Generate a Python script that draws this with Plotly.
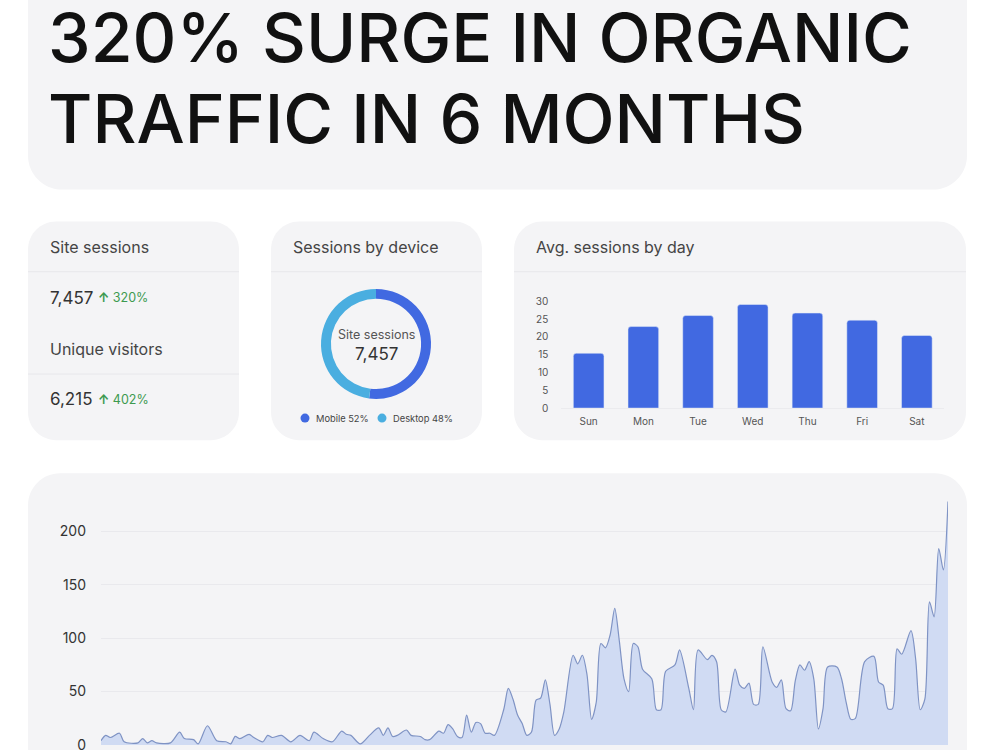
import plotly.graph_objects as go

W = 1000
H_LAYOUT = 760   # rendered into ~750 px of the photographed page
H_PIC = 750


def px(x):
    return x / W


def py(y):
    return 1 - y / H_PIC


# ---------------- data ----------------
title_lines = ["320% SURGE IN ORGANIC", "TRAFFIC IN 6 MONTHS"]

site_sessions = "7,457"
site_growth = "320%"
unique_visitors = "6,215"
unique_growth = "402%"

device_labels = ["Mobile", "Desktop"]
device_share = [52, 48]
device_colors = ["#4169e1", "#4aaee0"]

weekdays = ["Sun", "Mon", "Tue", "Wed", "Thu", "Fri", "Sat"]
avg_sessions = [15.4, 22.9, 26.0, 29.1, 26.7, 24.7, 20.4]
bar_ticks = [0, 5, 10, 15, 20, 25, 30]

days = [0, 1, 2, 4, 5, 8, 9, 10, 11, 12, 15, 17, 18, 20, 21, 23, 25, 27, 28, 29,
        30, 32, 33, 35, 36, 37, 39, 41, 43, 45, 46, 48, 50, 52, 53, 54, 56, 58, 60, 61,
        62, 63, 64, 66, 67, 69, 70, 71, 73, 74, 75, 76, 77, 78, 79, 80, 81, 82, 83, 84,
        85, 87, 88, 89, 90, 91, 92, 93, 94, 95, 96, 97, 98, 99, 100, 102, 103, 104, 105, 106,
        107, 108, 109, 110, 111, 112, 113, 114, 115, 116, 117, 119, 120, 121, 122, 124, 125, 127, 128, 129,
        131, 132, 133, 134, 135, 137, 138, 139, 140, 141, 142, 143, 145, 146, 147, 148, 149, 150, 151, 152,
        153, 154, 155, 156, 157, 159, 160, 161, 162, 163, 165, 167, 168, 169, 170, 171, 172, 173, 175, 176,
        177, 178, 179, 180, 181, 182, 183]
sessions = [4, 9, 7, 11, 3, 2, 6, 2, 4, 2, 2, 12, 6, 5, 1, 18, 4, 3, 1, 8,
            6, 10, 7, 3, 9, 7, 9, 3, 9, 4, 12, 6, 3, 13, 10, 9, 1, 9, 16, 9,
            16, 8, 9, 14, 9, 8, 5, 5, 13, 11, 19, 15, 8, 7, 28, 12, 21, 20, 11, 11,
            9, 33, 53, 43, 28, 20, 9, 12, 42, 44, 61, 38, 9, 15, 31, 84, 76, 84, 66, 24,
            40, 95, 91, 103, 128, 97, 62, 50, 95, 92, 71, 62, 33, 33, 69, 75, 89, 53, 33, 89,
            80, 84, 78, 33, 31, 71, 56, 53, 58, 38, 38, 92, 59, 54, 61, 34, 32, 60, 75, 70,
            78, 62, 15, 34, 73, 73, 62, 40, 24, 25, 78, 83, 59, 56, 34, 34, 90, 85, 107, 81,
            33, 43, 134, 120, 184, 164, 228]
line_ticks = [0, 50, 100, 150, 200]

# ---------------- styles ----------------
FONT = "Inter"
CARD = "#f4f4f6"
DIVIDER = "#e7e7eb"


def rrect(x0, y0, x1, y1, r):
    c = 0.5523 * r

    def P(x, y):
        return f"{px(x):.5f},{py(y):.5f}"

    return (f"M {P(x0 + r, y0)} L {P(x1 - r, y0)} "
            f"C {P(x1 - r + c, y0)} {P(x1, y0 + r - c)} {P(x1, y0 + r)} "
            f"L {P(x1, y1 - r)} "
            f"C {P(x1, y1 - r + c)} {P(x1 - r + c, y1)} {P(x1 - r, y1)} "
            f"L {P(x0 + r, y1)} "
            f"C {P(x0 + r - c, y1)} {P(x0, y1 - r + c)} {P(x0, y1 - r)} "
            f"L {P(x0, y0 + r)} "
            f"C {P(x0, y0 + r - c)} {P(x0 + r - c, y0)} {P(x0 + r, y0)} Z")


shapes = []
for (x0, y0, x1, y1, r) in [(28, -60, 967, 189, 34), (28, 221, 239, 439, 28),
                            (271, 221, 482, 439, 28), (514, 221, 966, 439, 28),
                            (28, 472, 967, 800, 32)]:
    shapes.append(dict(type="path", path=rrect(x0, y0, x1, y1, r), xref="paper", yref="paper",
                       fillcolor=CARD, line=dict(width=0), layer="below"))

for (x0, x1, y) in [(28, 239, 271), (28, 239, 373), (271, 482, 271), (514, 966, 271)]:
    shapes.append(dict(type="line", xref="paper", yref="paper", x0=px(x0), x1=px(x1),
                       y0=py(y), y1=py(y), line=dict(color=DIVIDER, width=1), layer="below"))

# legend dots for donut
for cx, col in [(305, device_colors[0]), (382, device_colors[1])]:
    shapes.append(dict(type="circle", xref="paper", yref="paper", x0=px(cx - 4.5), x1=px(cx + 4.5),
                       y0=py(417 + 4.5), y1=py(417 - 4.5), fillcolor=col, line=dict(width=0)))

annotations = []


def txt(text, x, y, size, color, xanchor="left", weight=400):
    annotations.append(dict(text=text, x=px(x), y=py(y), xref="paper", yref="paper",
                            xanchor=xanchor, yanchor="middle", showarrow=False,
                            font=dict(family=FONT, size=size, color=color, weight=weight)))


txt(title_lines[0], 46, 37, 68, "#111111", weight=500)
txt(title_lines[1], 46, 118, 68, "#111111", weight=500)

txt("Site sessions", 48, 246, 16, "#454545")
txt(site_sessions, 48, 297, 17, "#333333")
txt("<b>↑</b> " + site_growth, 96, 297, 12.5, "#3d9a50")
txt("Unique visitors", 48, 348, 16, "#454545")
txt(unique_visitors, 48, 398, 17, "#333333")
txt("<b>↑</b> " + unique_growth, 96, 398, 12.5, "#3d9a50")

txt("Sessions by device", 291, 246, 16, "#454545")
txt("Site sessions", 376, 334, 12.5, "#555555", "center")
txt(site_sessions, 376, 353, 17, "#333333", "center")
txt(f"{device_labels[0]} {device_share[0]}%", 314, 417, 9.3, "#444444")
txt(f"{device_labels[1]} {device_share[1]}%", 391, 417, 9.3, "#444444")

txt("Avg. sessions by day", 534, 246, 16, "#454545")

fig = go.Figure()

fig.add_trace(go.Pie(labels=device_labels, values=device_share, hole=0.82, sort=False,
                     direction="clockwise", rotation=0, textinfo="none", hoverinfo="skip",
                     marker=dict(colors=device_colors, line=dict(width=0)),
                     domain=dict(x=[px(321), px(431)], y=[py(398), py(288)]),
                     showlegend=False))

fig.add_trace(go.Bar(x=weekdays, y=avg_sessions, marker=dict(color="#4169e1", cornerradius=3),
                     xaxis="x2", yaxis="y2", showlegend=False, hoverinfo="skip"))

fig.add_trace(go.Scatter(x=days, y=sessions, mode="lines", line=dict(color="#7f93c4", width=1.2,
                                                                      shape="spline", smoothing=0.8),
                         fill="tozeroy", fillcolor="#d0dbf3", xaxis="x", yaxis="y",
                         showlegend=False, hoverinfo="skip"))

fig.update_layout(
    width=W, height=H_LAYOUT, margin=dict(l=0, r=0, t=0, b=0),
    paper_bgcolor="white", plot_bgcolor="rgba(0,0,0,0)",
    font=dict(family=FONT),
    shapes=shapes, annotations=annotations,
    bargap=0.44,
    xaxis=dict(domain=[px(101), px(948)], range=[0, 183], showticklabels=False, showgrid=False,
               zeroline=False, fixedrange=True),
    yaxis=dict(domain=[py(743), py(487.4)], range=[0, 240], tickvals=line_ticks,
               tickfont=dict(size=14, color="#333333"), ticklabelstandoff=14,
               gridcolor="#e9e9ed", gridwidth=1, zeroline=False, showline=False),
    xaxis2=dict(domain=[px(561.3), px(944.2)], range=[-0.5, 6.5], anchor="y2",
                tickfont=dict(size=10, color="#555555"), showgrid=False, zeroline=False,
                showline=True, linecolor="#ebebee", ticklabelstandoff=4),
    yaxis2=dict(domain=[py(407), py(293.4)], range=[0, 32], anchor="x2", tickvals=bar_ticks,
                tickfont=dict(size=10, color="#555555"), showgrid=False, zeroline=False,
                ticklabelstandoff=12),
)

fig.write_html("out.html")
